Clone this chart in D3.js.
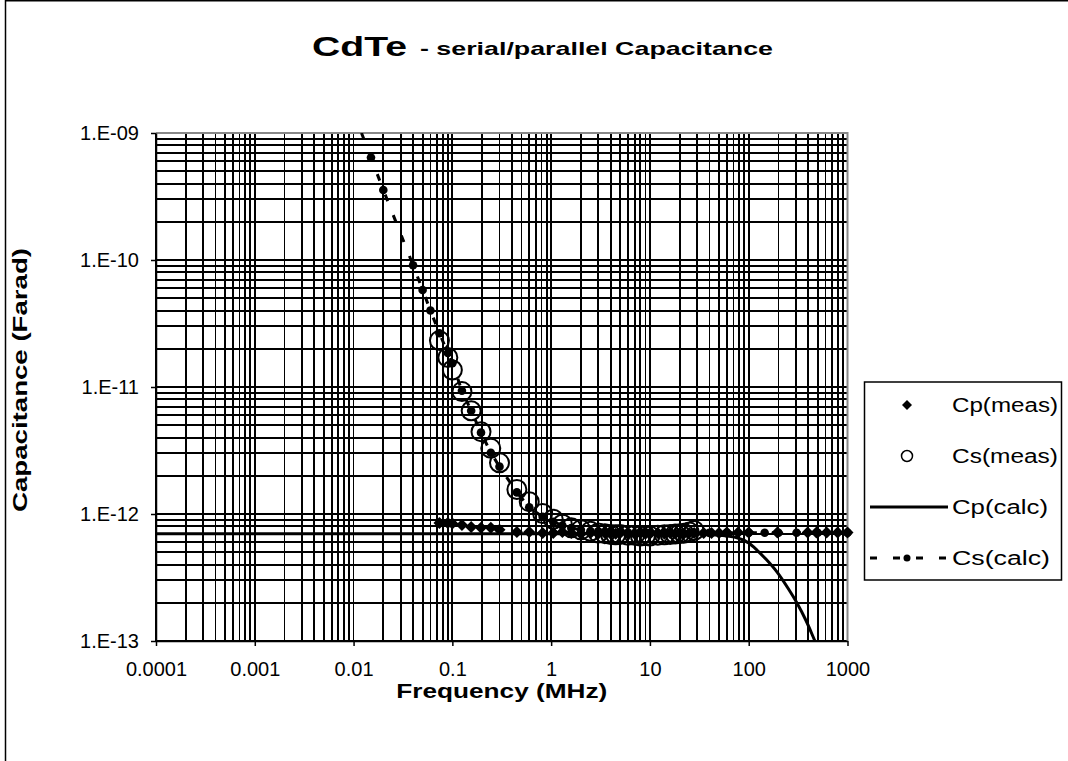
<!DOCTYPE html>
<html><head><meta charset="utf-8">
<script src="https://cdn.jsdelivr.net/npm/d3@7"></script>
<style>body{margin:0;background:#fff}svg{display:block}text{font-family:Arial,"Liberation Sans",sans-serif;fill:#000}</style>
</head><body>
<svg id="c" width="1068" height="761"></svg>
<script>
// ---------- data ----------
const xTickValues = [1e-4, 1e-3, 1e-2, 1e-1, 1, 10, 100, 1000];
const xTickLabels = ["0.0001", "0.001", "0.01", "0.1", "1", "10", "100", "1000"];
const yTickValues = [1e-9, 1e-10, 1e-11, 1e-12, 1e-13];
const yTickLabels = ["1.E-09", "1.E-10", "1.E-11", "1.E-12", "1.E-13"];
const seriesNames = ["Cp(meas)", "Cs(meas)", "Cp(calc)", "Cs(calc)"];

// Cp(meas) – diamonds (MHz, Farad)
const freqCpMeas = [0.074, 0.09, 0.1, 0.125, 0.155, 0.195, 0.245, 0.3, 0.45, 0.6, 0.82, 1.05,
  1.3, 1.6, 2, 2.5, 3, 3.5, 4, 4.5, 5, 6, 7, 8, 9, 10, 12, 14, 16, 18, 20, 22, 25, 28,
  35, 42, 50, 60, 78, 100, 195, 395, 485, 615, 795, 1000];
const cpMeas = [8.5e-13, 8.5e-13, 8.4e-13, 8.2e-13, 7.9e-13, 7.8e-13, 7.8e-13, 7.5e-13, 7.2e-13, 7.2e-13, 7.1e-13, 7.1e-13,
  7.2e-13, 7.1e-13, 7.0e-13, 7.1e-13, 7.0e-13, 7.1e-13, 7.0e-13, 7.0e-13, 7.1e-13, 7.0e-13, 7.0e-13, 7.1e-13, 7.0e-13, 7.0e-13, 7.1e-13, 7.0e-13, 7.1e-13, 7.0e-13, 7.1e-13, 7.0e-13, 7.1e-13, 7.1e-13,
  7.1e-13, 7.1e-13, 7.1e-13, 7.15e-13, 7.15e-13, 7.15e-13, 7.15e-13, 7.15e-13, 7.15e-13, 7.15e-13, 7.15e-13, 7.15e-13];

// Cs(meas) – open circles
const freqCsMeas = [0.074, 0.09, 0.1, 0.125, 0.155, 0.195, 0.245, 0.3, 0.45, 0.6, 0.82, 1.05,
  1.3, 1.6, 2, 2.5, 3, 3.5, 4, 4.5, 5, 6, 7, 8, 9, 10, 12, 14, 16, 18, 20, 22, 25, 28];
const csMeas = [2.32e-11, 1.71e-11, 1.36e-11, 9.2e-12, 6.5e-12, 4.45e-12, 3.29e-12, 2.53e-12, 1.56e-12, 1.25e-12, 1.01e-12, 9.1e-13,
  8.3e-13, 7.8e-13, 7.5e-13, 7.3e-13, 7.1e-13, 7.0e-13, 6.9e-13, 6.85e-13, 6.9e-13, 6.8e-13, 6.8e-13, 6.7e-13, 6.75e-13, 6.7e-13, 6.8e-13, 6.85e-13, 6.9e-13, 6.95e-13, 7.0e-13, 7.05e-13, 7.2e-13, 7.4e-13];

// Cp(calc) – solid line
const freqCpCalc = [0.0001, 1, 10, 30, 50, 76, 100, 121, 150, 193, 250, 307, 380, 468, 550];
const cpCalc = [7.0e-13, 7.0e-13, 7.0e-13, 6.95e-13, 6.8e-13, 6.5e-13, 5.9e-13, 5.2e-13, 4.4e-13, 3.5e-13, 2.6e-13, 2.0e-13, 1.45e-13, 1.0e-13, 0.75e-13];

// Cs(calc) – dashed line with dots
const freqCsCalc = [0.01, 0.015, 0.02, 0.04, 0.05, 0.06, 0.074, 0.09, 0.1, 0.125, 0.155, 0.195, 0.245, 0.3, 0.45, 0.6, 0.82, 1.05,
  1.3, 1.6, 2, 2.5, 3, 4, 5, 6, 8, 10, 14, 20, 28, 40, 60, 100, 145, 200, 305, 500, 1000];
const csCalc = [1.45e-9, 6.4e-10, 3.56e-10, 9.1e-11, 5.8e-11, 4.0e-11, 2.65e-11, 1.85e-11, 1.54e-11, 9.35e-12, 6.5e-12, 4.37e-12, 3.04e-12, 2.36e-12, 1.48e-12, 1.13e-12, 9.5e-13, 8.7e-13,
  8.1e-13, 7.75e-13, 7.5e-13, 7.35e-13, 7.3e-13, 7.2e-13, 7.18e-13, 7.15e-13, 7.12e-13, 7.1e-13, 7.1e-13, 7.1e-13, 7.1e-13, 7.1e-13, 7.1e-13, 7.12e-13, 7.12e-13, 7.12e-13, 7.12e-13, 7.12e-13, 7.12e-13];

// ---------- layout ----------
const W = 1068, H = 761;
const P = {left: 156, right: 847.5, top: 133, bottom: 641};
const svg = d3.select("#c");

const x = d3.scaleLog().domain([1e-4, 1e3]).range([P.left, P.right]);
const y = d3.scaleLog().domain([1e-13, 1e-9]).range([P.bottom, P.top]);

// outer chart border (left + top visible)
svg.append("path").attr("d", `M5.5,${H + 5} V0.75 H${W + 5}`)
  .attr("fill", "none").attr("stroke", "#000").attr("stroke-width", 1.5);

// plot background
svg.append("rect").attr("x", P.left).attr("y", P.top).attr("width", P.right - P.left).attr("height", P.bottom - P.top).attr("fill", "#fff");

// gridlines
const xGrid = [];
for (let k = -4; k <= 2; k++) for (let m = 1; m <= 9; m++) xGrid.push(m * Math.pow(10, k));
xGrid.push(1000);
const yGrid = [];
for (let k = -13; k <= -10; k++) for (let m = 1; m <= 9; m++) yGrid.push(m * Math.pow(10, k));
yGrid.push(1e-9);

const grid = svg.append("g").attr("shape-rendering", "crispEdges");
grid.selectAll("line.v").data(xGrid).join("line").attr("class", "v")
  .attr("x1", d => x(d)).attr("x2", d => x(d)).attr("y1", P.top).attr("y2", P.bottom)
  .attr("stroke", "#000").attr("stroke-width", 1.8);
grid.selectAll("line.h").data(yGrid).join("line").attr("class", "h")
  .attr("x1", P.left).attr("x2", P.right).attr("y1", d => y(d)).attr("y2", d => y(d))
  .attr("stroke", "#000").attr("stroke-width", 2);

// plot border top/right (gray)
svg.append("path").attr("d", `M${P.left},${P.top} H${P.right} V${P.bottom}`)
  .attr("fill", "none").attr("stroke", "#888").attr("stroke-width", 2);

// axes
const xAxis = d3.axisBottom(x).tickValues(xTickValues).tickFormat((d, i) => xTickLabels[i]).tickSizeInner(5).tickSizeOuter(0).tickPadding(16);
const gx = svg.append("g").attr("transform", `translate(0,${P.bottom})`).call(xAxis);
gx.select(".domain").attr("stroke", "#000").attr("stroke-width", 1.5);
gx.selectAll(".tick line").attr("stroke", "#000").attr("stroke-width", 1.5);
gx.selectAll(".tick text").attr("font-size", 20).attr("font-family", "Arial, 'Liberation Sans', sans-serif").attr("fill", "#000");

const yAxis = d3.axisLeft(y).tickValues(yTickValues).tickFormat((d, i) => yTickLabels[i]).tickSizeInner(5).tickSizeOuter(0).tickPadding(12);
const gy = svg.append("g").attr("transform", `translate(${P.left},0)`).call(yAxis);
gy.select(".domain").attr("stroke", "#000").attr("stroke-width", 1.5);
gy.selectAll(".tick line").attr("stroke", "#000").attr("stroke-width", 1.5);
gy.selectAll(".tick text").attr("font-size", 20).attr("font-family", "Arial, 'Liberation Sans', sans-serif").attr("fill", "#000");

// clip for lines
svg.append("clipPath").attr("id", "plotclip").append("rect")
  .attr("x", P.left).attr("y", P.top).attr("width", P.right - P.left).attr("height", P.bottom - P.top);

const zip = (fs, vs) => fs.map((f, i) => ({f, v: vs[i]}));
const line = d3.line().x(d => x(d.f)).y(d => y(d.v));
const smooth = d3.line().x(d => x(d.f)).y(d => y(d.v)).curve(d3.curveMonotoneX);

// Cp(meas) diamonds
const diamond = (s) => `M0,${-s} L${s},0 L0,${s} L${-s},0 Z`;
svg.append("g").selectAll("path").data(zip(freqCpMeas, cpMeas)).join("path")
  .attr("transform", d => `translate(${x(d.f)},${y(d.v)})`)
  .attr("d", diamond(6)).attr("fill", "#000");

// Cs(meas) circles
svg.append("g").selectAll("circle").data(zip(freqCsMeas, csMeas)).join("circle")
  .attr("cx", d => x(d.f)).attr("cy", d => y(d.v)).attr("r", 9.5)
  .attr("fill", "none").attr("stroke", "#000").attr("stroke-width", 2);

// Cp(calc) line
svg.append("path").datum(zip(freqCpCalc, cpCalc)).attr("clip-path", "url(#plotclip)")
  .attr("d", smooth).attr("fill", "none").attr("stroke", "#000").attr("stroke-width", 3);

// Cs(calc) dashed line + dots
svg.append("path").datum(zip(freqCsCalc, csCalc)).attr("clip-path", "url(#plotclip)")
  .attr("d", line).attr("fill", "none").attr("stroke", "#000").attr("stroke-width", 3)
  .attr("stroke-dasharray", "7,15");
svg.append("g").selectAll("circle").data(zip(freqCsCalc, csCalc).filter(d => y(d.v) >= P.top)).join("circle")
  .attr("cx", d => x(d.f)).attr("cy", d => y(d.v)).attr("r", 4.3).attr("fill", "#000");

// titles
svg.append("text").attr("x", 312).attr("y", 56).attr("font-size", 28).attr("font-weight", "bold")
  .attr("textLength", 95).attr("lengthAdjust", "spacingAndGlyphs").text("CdTe");
svg.append("text").attr("x", 420).attr("y", 55).attr("font-size", 19).attr("font-weight", "bold")
  .attr("textLength", 353).attr("lengthAdjust", "spacingAndGlyphs").text("- serial/parallel Capacitance");

svg.append("text").attr("x", (P.left + P.right) / 2).attr("y", 698).attr("text-anchor", "middle")
  .attr("font-size", 20).attr("font-weight", "bold")
  .attr("textLength", 211).attr("lengthAdjust", "spacingAndGlyphs").text("Frequency (MHz)");

svg.append("text").attr("transform", "translate(27,380) rotate(-90)").attr("text-anchor", "middle")
  .attr("font-size", 20).attr("font-weight", "bold")
  .attr("textLength", 264).attr("lengthAdjust", "spacingAndGlyphs").text("Capacitance (Farad)");

// legend
const L = {x: 864.5, y: 382, w: 197, h: 198};
const rowsY = [405, 456, 507, 558];
const lg = svg.append("g");
lg.append("rect").attr("x", L.x).attr("y", L.y).attr("width", L.w).attr("height", L.h)
  .attr("fill", "#fff").attr("stroke", "#000").attr("stroke-width", 1.5);
const textW = [106, 106, 96, 98];
seriesNames.forEach((name, i) => {
  const cy = rowsY[i];
  if (i === 0) lg.append("path").attr("transform", `translate(907,${cy})`).attr("d", diamond(5)).attr("fill", "#000");
  if (i === 1) lg.append("circle").attr("cx", 907).attr("cy", cy).attr("r", 5.5).attr("fill", "none").attr("stroke", "#000").attr("stroke-width", 1.5);
  if (i === 2) lg.append("line").attr("x1", 870).attr("x2", 948).attr("y1", cy).attr("y2", cy).attr("stroke", "#000").attr("stroke-width", 3);
  if (i === 3) {
    lg.append("line").attr("x1", 870).attr("x2", 949).attr("y1", cy).attr("y2", cy).attr("stroke", "#000").attr("stroke-width", 3).attr("stroke-dasharray", "7,16");
    lg.append("circle").attr("cx", 907).attr("cy", cy).attr("r", 3.5).attr("fill", "#000");
  }
  lg.append("text").attr("x", 952).attr("y", cy + 7).attr("font-size", 20)
    .attr("textLength", textW[i]).attr("lengthAdjust", "spacingAndGlyphs").text(name);
});
</script>
</body></html>
